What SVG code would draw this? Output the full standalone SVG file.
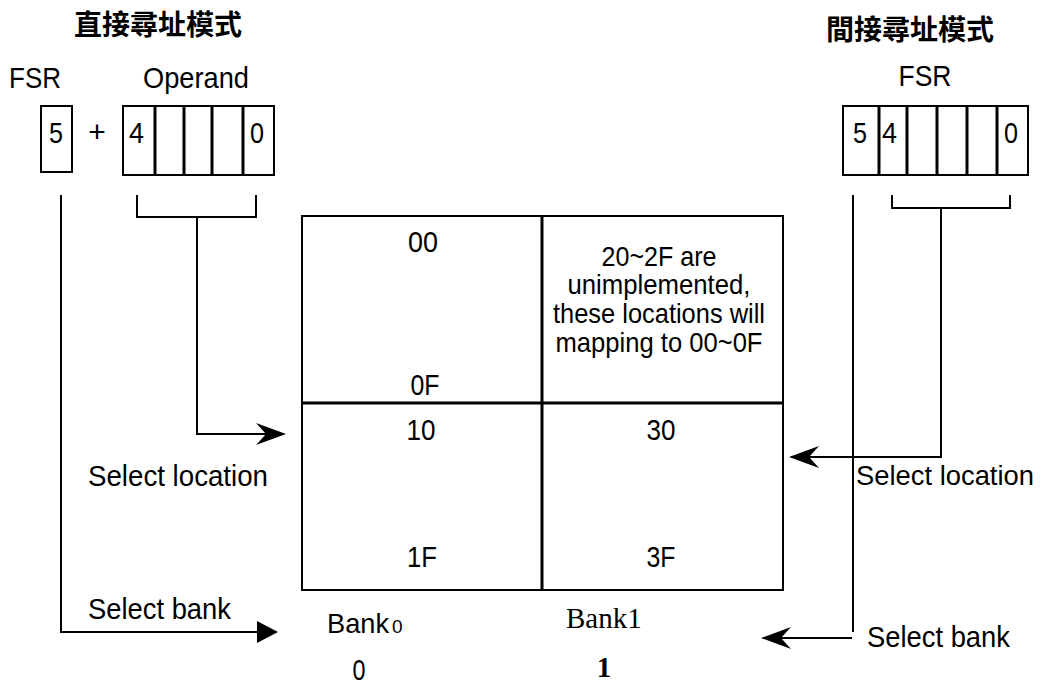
<svg xmlns="http://www.w3.org/2000/svg" width="1041" height="684" viewBox="0 0 1041 684">
<style>
.t{font-family:"Liberation Sans",Arial,sans-serif;font-size:30px;fill:#000}
.s{font-size:28px}
.c{text-anchor:middle}
.cjk{font-family:"Noto Sans CJK TC","Noto Sans CJK SC",sans-serif;font-size:28px;font-weight:bold;fill:#000;text-anchor:middle}
.box{fill:#fff;stroke:#000;stroke-width:2}
.div{stroke:#000;stroke-width:3}
.ln{fill:none;stroke:#000;stroke-width:2}
.serif{font-family:"Liberation Serif","Times New Roman",serif;font-size:29px;fill:#000}
</style>
<defs>
<marker id="stealth" markerUnits="userSpaceOnUse" orient="auto" refX="-2" refY="0" markerWidth="40" markerHeight="30" viewBox="-32 -15 40 30" overflow="visible">
<path d="M0,0 L-30,-11 L-20,0 L-30,11 Z" fill="#000"/>
</marker>
<marker id="tri" markerUnits="userSpaceOnUse" orient="auto" refX="-2" refY="0" markerWidth="40" markerHeight="30" viewBox="-32 -15 40 30" overflow="visible">
<path d="M0,0 L-21,-11 L-21,11 Z" fill="#000"/>
</marker>
</defs>
<rect width="1041" height="684" fill="#fff"/>

<g id="title-direct"><text class="cjk" x="158" y="35">直接尋址模式</text></g>
<g id="title-indirect"><text class="cjk" x="910" y="40">間接尋址模式</text></g>

<g id="fsr-direct">
<text class="t" x="9" y="88" textLength="52" lengthAdjust="spacingAndGlyphs">FSR</text>
<rect class="box" x="41" y="106" width="31" height="66"/>
<text class="t c" x="56" y="143" textLength="14" lengthAdjust="spacingAndGlyphs">5</text>
</g>
<g id="plus"><text class="t c" x="97" y="142">+</text></g>
<g id="operand">
<text class="t" x="143" y="88" textLength="106" lengthAdjust="spacingAndGlyphs">Operand</text>
<rect class="box" x="123" y="106" width="151" height="69"/>
<line class="div" x1="155" y1="106" x2="155" y2="175"/>
<line class="div" x1="184" y1="106" x2="184" y2="175"/>
<line class="div" x1="212" y1="106" x2="212" y2="175"/>
<line class="div" x1="243" y1="106" x2="243" y2="175"/>
<text class="t" x="129" y="143" textLength="15" lengthAdjust="spacingAndGlyphs">4</text>
<text class="t" x="250" y="143" textLength="14" lengthAdjust="spacingAndGlyphs">0</text>
</g>

<g id="fsr-indirect">
<text class="t c" x="925" y="86" textLength="53" lengthAdjust="spacingAndGlyphs">FSR</text>
<rect class="box" x="843" y="106" width="185" height="69"/>
<line class="div" x1="879" y1="106" x2="879" y2="175"/>
<line class="div" x1="907" y1="106" x2="907" y2="175"/>
<line class="div" x1="937" y1="106" x2="937" y2="175"/>
<line class="div" x1="967" y1="106" x2="967" y2="175"/>
<line class="div" x1="997" y1="106" x2="997" y2="175"/>
<text class="t" x="853" y="143" textLength="14" lengthAdjust="spacingAndGlyphs">5</text>
<text class="t" x="882" y="143" textLength="15" lengthAdjust="spacingAndGlyphs">4</text>
<text class="t" x="1004" y="143" textLength="14" lengthAdjust="spacingAndGlyphs">0</text>
</g>

<g id="memory">
<rect class="box" x="302" y="216" width="481" height="374"/>
<line class="div" x1="542" y1="216" x2="542" y2="590" stroke-width="3.5"/>
<line class="div" x1="302" y1="403" x2="783" y2="403" stroke-width="3.5"/>
<text class="t c" x="423" y="252" textLength="30" lengthAdjust="spacingAndGlyphs">00</text>
<text class="t c" x="425" y="395" textLength="29" lengthAdjust="spacingAndGlyphs">0F</text>
<text class="t c" x="421" y="440" textLength="29" lengthAdjust="spacingAndGlyphs">10</text>
<text class="t c" x="422" y="567" textLength="30" lengthAdjust="spacingAndGlyphs">1F</text>
<text class="t c" x="661" y="440" textLength="29" lengthAdjust="spacingAndGlyphs">30</text>
<text class="t c" x="661" y="567" textLength="29" lengthAdjust="spacingAndGlyphs">3F</text>
<text class="t s c" x="659" y="266" textLength="115" lengthAdjust="spacingAndGlyphs">20~2F are</text>
<text class="t s c" x="659" y="294" textLength="183" lengthAdjust="spacingAndGlyphs">unimplemented,</text>
<text class="t s c" x="659" y="323" textLength="212" lengthAdjust="spacingAndGlyphs">these locations will</text>
<text class="t s c" x="659" y="352" textLength="207" lengthAdjust="spacingAndGlyphs">mapping to 00~0F</text>
</g>

<g id="bank0">
<text class="t" x="327" y="633" style="font-size:28px" textLength="62" lengthAdjust="spacingAndGlyphs">Bank</text>
<text class="t" x="392" y="633" style="font-size:19px">0</text>
<text class="t c" x="359" y="680" textLength="13" lengthAdjust="spacingAndGlyphs">0</text>
</g>
<g id="bank1">
<text class="serif" x="566" y="628">Bank1</text>
<text class="serif" x="604" y="677" font-weight="bold" text-anchor="middle">1</text>
</g>

<g id="labels">
<text class="t" x="88" y="486" textLength="180" lengthAdjust="spacingAndGlyphs">Select location</text>
<text class="t" x="88" y="619" textLength="143" lengthAdjust="spacingAndGlyphs">Select bank</text>
<text class="t" x="856" y="485" style="font-size:27.5px" textLength="178" lengthAdjust="spacingAndGlyphs">Select location</text>
<text class="t" x="867" y="647" textLength="143" lengthAdjust="spacingAndGlyphs">Select bank</text>
</g>

<g id="connectors">
<path class="ln" d="M137,195 V217 H256 V195"/>
<path class="ln" d="M197,217 V434 H284" marker-end="url(#stealth)"/>
<path class="ln" d="M61,195 V632 H276" marker-end="url(#tri)"/>
<path class="ln" d="M892,195 V208 H1010 V195"/>
<path class="ln" d="M941,208 V457 H791" marker-end="url(#stealth)"/>
<path class="ln" d="M853,195 V632 M852,638 H763" marker-end="url(#stealth)"/>
</g>
</svg>
